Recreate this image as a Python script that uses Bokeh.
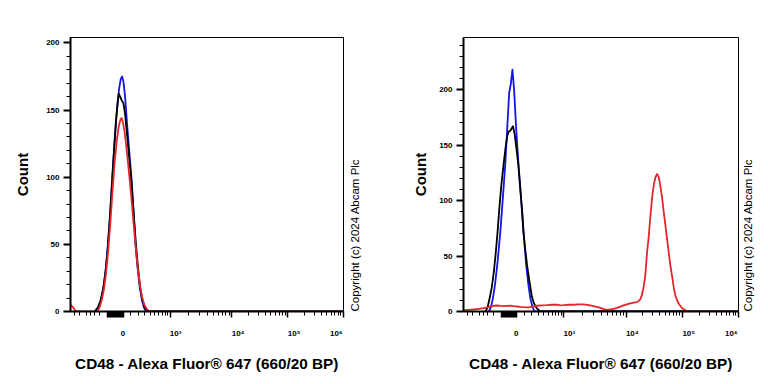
import math
from bokeh.plotting import figure
from bokeh.layouts import row
from bokeh.models import Range1d, FixedTicker, SingleIntervalTicker, LinearAxis, Spacer
from bokeh.embed import file_html
from bokeh.resources import INLINE

# ---------------- data (x = display channel 0..1000 on the biexponential axis, y = count)
left_blue_x = [95, 104, 113, 122, 130, 137, 145, 153, 162, 170, 178, 184, 189, 194, 200, 207, 215, 223, 231, 238, 246, 254, 262, 269, 278, 1000]
left_blue_y = [0, 4, 10, 20, 33, 50, 73, 100, 128, 150, 166, 173, 175, 171, 160, 140, 120, 100, 74, 50, 32, 18, 8, 3, 0, 0]

left_black_x = [88, 100, 110, 120, 128, 136, 144, 152, 160, 167, 173, 177, 182, 188, 194, 200, 208, 216, 224, 231, 239, 247, 255, 263, 272, 282, 1000]
left_black_y = [0, 3, 8, 17, 29, 46, 68, 95, 122, 143, 156, 162, 160, 157, 155, 147, 130, 112, 95, 74, 52, 33, 18, 9, 3, 0, 0]

left_red_x = [0, 5, 10, 16, 24, 98, 106, 114, 122, 130, 138, 146, 154, 162, 170, 177, 183, 187, 192, 198, 206, 214, 222, 230, 238, 246, 254, 262, 270, 279, 290, 1000]
left_red_y = [5, 4, 3, 1, 0, 0, 3, 8, 16, 28, 45, 66, 90, 112, 128, 138, 143, 144, 141, 134, 120, 104, 87, 68, 50, 33, 20, 11, 5, 2, 0, 0]

right_blue_x = [92, 100, 107, 115, 124, 134, 143, 152, 159, 166, 172, 178, 184, 192, 200, 209, 218, 228, 236, 243, 250, 258, 1000]
right_blue_y = [0, 4, 12, 25, 45, 72, 102, 133, 165, 197, 205, 218, 200, 163, 133, 103, 72, 42, 24, 12, 5, 0, 0]

right_black_x = [80, 88, 95, 103, 110, 117, 124, 131, 138, 146, 153, 159, 164, 170, 175, 180, 186, 192, 199, 204, 209, 214, 218, 224, 231, 240, 249, 257, 266, 279, 1000]
right_black_y = [0, 4, 12, 22, 35, 52, 72, 95, 115, 133, 148, 158, 162, 163, 165, 167, 160, 148, 133, 118, 103, 88, 72, 57, 42, 27, 13, 7, 3, 0, 0]

right_red_x = [0, 18, 36, 55, 73, 90, 103, 112, 122, 134, 146, 158, 170, 182, 194, 206, 218, 230, 243, 255, 267, 285, 304, 322, 340, 352, 364, 382, 400, 418, 437, 449, 461, 480, 498, 510, 522, 534, 546, 564, 582, 600, 619, 630, 637, 643, 649, 655, 661, 668, 673, 679, 686, 692, 698, 704, 710, 716, 722, 728, 734, 740, 746, 752, 759, 765, 771, 777, 783, 789, 795, 801, 813, 825, 838, 1000]
right_red_y = [1.2, 1.5, 1.8, 2.4, 3, 4, 4.8, 5.2, 5.4, 5, 4.8, 5, 5.2, 4.8, 4.5, 4.1, 3.9, 3.8, 3.9, 4.5, 5.2, 5.5, 5.8, 6.2, 6.1, 5.6, 5.8, 6.2, 6.1, 6.4, 6.4, 6, 5.5, 4.5, 3.3, 2.2, 1.5, 1.8, 2.4, 3.8, 5.5, 6.8, 7.9, 8.5, 9.5, 11, 15, 22, 32, 55, 66, 84, 103, 114, 121, 124, 121, 113, 103, 90, 78, 66, 54, 42, 31, 21, 14, 10, 7, 5, 3, 2, 0.5, 0.2, 0, 0]

# axis tick values (fluorescence) and tick label texts
major_decades = [1e3, 1e4, 1e5, 1e6]
zero_cluster = list(range(-180, 20, 10))
minor_values = ([-1000, -800, -600, -500, -400, -300]
                + [k * 100 for k in range(1, 10)]
                + [k * 1000 for k in range(2, 10)]
                + [k * 10000 for k in range(2, 10)]
                + [k * 100000 for k in range(2, 10)])
tick_label_texts = ["0", "10\u00b3", "10\u2074", "10\u2075", "10\u2076"]

x_title = "CD48 - Alexa Fluor\u00ae 647 (660/20 BP)"
y_title = "Count"
copyright_text = "Copyright (c) 2024 Abcam Plc"

# ---------------- biexponential display scale (channel positions of decades)
DECADE_CH = {3: 365.0, 4: 591.0, 5: 796.0, 6: 1000.0}
ZERO_CH = 190.0
LIN_W = 280.0
LABEL_CH = [192, 385, 614, 819, 974]


def to_ch(v):
    if v >= 1000:
        d = math.log10(v)
        lo = min(int(math.floor(d)), 5)
        return DECADE_CH[lo] + (d - lo) * (DECADE_CH[lo + 1] - DECADE_CH[lo])
    return ZERO_CH + (DECADE_CH[3] - ZERO_CH) * math.asinh(v / LIN_W) / math.asinh(1000 / LIN_W)


FONT = "Liberation Sans"
BLUE = "#1414e6"
BLACK = "#000000"
RED = "#e3262b"


def make_fig(curves, y_max, frame_w, b_left, b_right, count_standoff, copy_standoff):
    p = figure(frame_width=frame_w, frame_height=274,
               x_range=Range1d(0, 1000), y_range=Range1d(0, y_max),
               output_backend="svg", toolbar_location=None,
               min_border_left=b_left, min_border_right=b_right,
               min_border_top=37, min_border_bottom=73)
    p.background_fill_color = "white"
    p.border_fill_color = "white"
    p.xgrid.visible = False
    p.ygrid.visible = False
    p.outline_line_color = "black"
    p.outline_line_width = 1
    p.outline_line_alpha = 1

    # short minor tick marks of the biexponential axis (no major ticks -> no labels)
    xa = p.xaxis[0]
    xa.ticker = FixedTicker(ticks=[], minor_ticks=[to_ch(v) for v in minor_values])
    xa.axis_line_width = 2
    xa.major_tick_in = 0
    xa.major_tick_out = 0
    xa.major_label_standoff = 0
    xa.major_label_text_font_size = "0px"
    xa.axis_label_standoff = 0
    xa.axis_label_text_font_size = "0px"
    xa.minor_tick_in = -4
    xa.minor_tick_out = 0
    xa.minor_tick_line_width = 1

    # decade ticks, zero cluster, tick labels and axis title
    long_ticks = [to_ch(v) for v in major_decades] + [to_ch(v) for v in zero_cluster]
    xl = LinearAxis(ticker=FixedTicker(ticks=LABEL_CH, minor_ticks=long_ticks),
                    major_label_overrides={c: t for c, t in zip(LABEL_CH, tick_label_texts)})
    xl.axis_line_color = None
    xl.major_tick_line_color = None
    xl.major_tick_in = 0
    xl.major_tick_out = 0
    xl.minor_tick_in = -6
    xl.minor_tick_out = 0
    xl.minor_tick_line_width = 1.5
    xl.minor_tick_line_color = "black"
    xl.major_label_standoff = 17
    xl.major_label_text_font = FONT
    xl.major_label_text_font_style = "bold"
    xl.major_label_text_font_size = "8px"
    xl.major_label_text_color = "black"
    xl.axis_label = x_title
    xl.axis_label_standoff = 14
    xl.axis_label_text_font = FONT
    xl.axis_label_text_font_style = "bold"
    xl.axis_label_text_font_size = "15.3px"
    xl.axis_label_text_color = "black"
    p.add_layout(xl, "below")

    ya = p.yaxis[0]
    ya.ticker = SingleIntervalTicker(interval=50, num_minor_ticks=5)
    ya.axis_line_width = 2
    ya.major_tick_in = 0
    ya.major_tick_out = 7
    ya.major_tick_line_width = 2
    ya.minor_tick_in = 0
    ya.minor_tick_out = 4
    ya.minor_tick_line_width = 1
    ya.major_label_standoff = 4
    ya.major_label_text_font = FONT
    ya.major_label_text_font_style = "bold"
    ya.major_label_text_font_size = "8px"
    ya.major_label_text_color = "black"
    ya.axis_label = y_title
    ya.axis_label_standoff = count_standoff
    ya.axis_label_text_font = FONT
    ya.axis_label_text_font_style = "bold"
    ya.axis_label_text_font_size = "15px"
    ya.axis_label_text_color = "black"

    # copyright note on the right, starting at the baseline
    yr = LinearAxis(ticker=FixedTicker(ticks=[0], minor_ticks=[]),
                    major_label_overrides={0: copyright_text})
    yr.axis_line_color = None
    yr.major_tick_line_color = None
    yr.minor_tick_line_color = None
    yr.major_tick_out = 0
    yr.minor_tick_out = 0
    yr.major_label_standoff = copy_standoff
    yr.major_label_orientation = math.pi / 2
    yr.major_label_text_font = FONT
    yr.major_label_text_font_size = "11.5px"
    yr.major_label_text_color = "black"
    p.add_layout(yr, "right")

    for xs, ys, col in curves:
        p.line(xs, ys, line_color=col, line_width=1.8, line_join="round")
    return p


left = make_fig([(left_blue_x, left_blue_y, BLUE), (left_black_x, left_black_y, BLACK),
                 (left_red_x, left_red_y, RED)], 204, 273, 62, 45, 12, 11)
right = make_fig([(right_blue_x, right_blue_y, BLUE), (right_black_x, right_black_y, BLACK),
                  (right_red_x, right_red_y, RED)], 247, 275, 75, 30, 7, 9)

layout = row(Spacer(width=8, height=384), left, right)
open("out.html", "w").write(file_html(layout, INLINE))
